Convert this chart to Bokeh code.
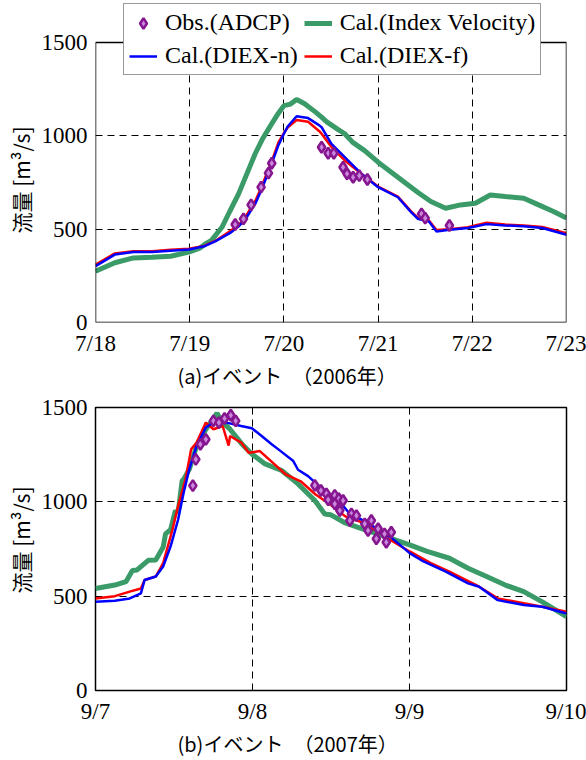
from bokeh.plotting import figure
from bokeh.models import (FixedTicker, Legend, LegendItem, Title, Range1d, BoxAnnotation)
from bokeh.layouts import column
from bokeh.embed import file_html
from bokeh.resources import INLINE

# ---------------- data: panel (a) 2006, days after 7/18 ----------------
a_tick_labels = ["7/18", "7/19", "7/20", "7/21", "7/22", "7/23"]

a_idx_day = [0, 0.205, 0.403, 0.600, 0.797, 0.99, 1.113, 1.166, 1.231, 1.342, 1.43, 1.519,
             1.61, 1.695, 1.78, 1.87, 1.94, 2.0, 2.07, 2.135, 2.22, 2.336, 2.40,
             2.455, 2.573, 2.646, 2.731, 2.857, 3.0, 3.21, 3.42, 3.56, 3.717, 3.875,
             4.033, 4.191, 4.349, 4.546, 4.704, 4.862, 5.0]
a_idx_val = [275, 320, 346, 350, 355, 377, 400, 421, 440, 510, 600, 689,
             800, 904, 990, 1064, 1120, 1162, 1170, 1195, 1172, 1127, 1100,
             1075, 1035, 1011, 965, 921, 859, 778, 698, 648, 612, 630,
             639, 683, 675, 666, 630, 595, 559]

a_n_day = [0, 0.205, 0.403, 0.600, 0.797, 0.994, 1.152, 1.271, 1.43, 1.52, 1.60, 1.70,
           1.77, 1.823, 1.87, 1.942, 2.0, 2.04, 2.135, 2.257, 2.376, 2.40, 2.505, 2.68,
           2.822, 3.0, 3.21, 3.35, 3.42, 3.54, 3.62, 3.757, 3.954, 4.152, 4.349, 4.546,
           4.743, 5.0]
a_n_val = [302, 364, 378, 378, 385, 391, 408, 435, 480, 515, 560, 640,
           720, 790, 850, 950, 1011, 1050, 1105, 1095, 1056, 1046, 957, 868,
           797, 725, 671, 591, 556, 541, 488, 497, 506, 527, 520, 515,
           506, 470]

a_f_day = [0, 0.205, 0.403, 0.600, 0.797, 0.994, 1.152, 1.271, 1.43, 1.52, 1.60, 1.70,
           1.77, 1.823, 1.87, 1.942, 2.0, 2.04, 2.135, 2.257, 2.376, 2.40, 2.505, 2.646,
           2.822, 3.0, 3.21, 3.35, 3.42, 3.54, 3.62, 3.757, 3.954, 4.152, 4.349, 4.546,
           4.743, 5.0]
a_f_val = [310, 370, 382, 382, 390, 395, 410, 437, 490, 522, 572, 655,
           735, 805, 862, 965, 1015, 1045, 1085, 1075, 1025, 1011, 940, 868,
           797, 728, 675, 595, 562, 546, 495, 500, 510, 535, 525, 520,
           512, 478]

a_obs_day = [1.483, 1.571, 1.652, 1.758, 1.836, 1.871, 2.40, 2.47, 2.53, 2.628, 2.67, 2.735,
             2.80, 2.886, 3.461, 3.500, 3.757]
a_obs_val = [525, 555, 630, 725, 800, 853, 939, 907, 907, 832, 797, 778,
             787, 766, 582, 559, 520]

# ---------------- data: panel (b) 2007, days after 9/7 ----------------
b_tick_labels = ["9/7", "9/8", "9/9", "9/10"]

b_idx_day = [0, 0.123, 0.194, 0.235, 0.265, 0.336, 0.384, 0.431, 0.446, 0.478, 0.509, 0.526,
             0.552, 0.561, 0.597, 0.644, 0.703, 0.762, 0.774, 0.810, 0.857, 0.932, 0.999,
             1.08, 1.186, 1.29, 1.397, 1.46, 1.497, 1.591, 1.686, 1.781, 1.875, 2.001, 2.112,
             2.254, 2.373, 2.491, 2.610, 2.728, 2.846, 3.0]
b_idx_val = [541, 559, 577, 636, 639, 690, 692, 760, 830, 852, 954, 941,
             1113, 1118, 1172, 1296, 1385, 1455, 1470, 1420, 1385, 1307, 1251,
             1201, 1166, 1095, 1007, 936, 932, 888, 861, 834, 808, 772, 737,
             701, 648, 604, 559, 524, 470, 391]

b_n_day = [0, 0.123, 0.218, 0.289, 0.313, 0.384, 0.431, 0.478, 0.526, 0.561, 0.597, 0.644,
           0.703, 0.762, 0.834, 0.928, 0.996, 1.070, 1.12, 1.165, 1.260, 1.29, 1.354, 1.449,
           1.48, 1.544, 1.615, 1.733, 1.875, 2.001, 2.089, 2.231, 2.373, 2.444, 2.562, 2.728,
           2.846, 3.0]
b_n_val = [470, 476, 488, 515, 586, 604, 657, 763, 905, 1047, 1172, 1296,
           1394, 1429, 1420, 1402, 1390, 1341, 1307, 1278, 1216, 1170, 1136, 1065,
           1030, 1012, 941, 888, 817, 728, 684, 630, 568, 550, 479, 453,
           444, 408]

b_f_day = [0, 0.123, 0.218, 0.289, 0.313, 0.384, 0.431, 0.490, 0.526, 0.573, 0.609, 0.644,
           0.703, 0.751, 0.810, 0.848, 0.857, 0.928, 0.976, 1.047, 1.118, 1.212, 1.307, 1.402,
           1.497, 1.591, 1.710, 1.875, 2.001, 2.136, 2.254, 2.444, 2.562, 2.728, 2.846, 3.0]
b_f_val = [488, 500, 524, 541, 586, 604, 675, 852, 977, 1118, 1278, 1314,
           1420, 1385, 1402, 1298, 1349, 1314, 1260, 1269, 1216, 1145, 1109, 1039,
           985, 923, 888, 799, 737, 675, 630, 550, 488, 462, 444, 417]

b_obs_day = [0.620, 0.639, 0.668, 0.703, 0.751, 0.786, 0.822, 0.862, 0.893,
             1.397, 1.436, 1.471, 1.524, 1.55, 1.577, 1.482, 1.524, 1.556, 1.63, 1.662,
             1.62, 1.715, 1.757, 1.80, 1.736, 1.841, 1.884, 1.789, 1.852]
b_obs_val = [1086, 1225, 1305, 1331, 1429, 1420, 1442, 1459, 1429,
             1087, 1060, 1042, 1034, 1016, 1007, 1011, 989, 954, 936, 927,
             901, 883, 901, 857, 848, 830, 839, 804, 786]

y_ticks = [0, 500, 1000, 1500]
y_max = 1500

GREEN = "#3a9a68"
BLUE = "#0000ff"
RED = "#ff0000"
OBS_LINE = "#86168f"
OBS_FILL = "#c986dc"
SERIF = "Liberation Serif"
CJK = "Noto Sans CJK JP"


def make_panel(height, top, bottom, xmax, ytop, tick_labels, label_text, ylab_offset,
               idx, n, f, obs, own_box):
    p = figure(width=586, height=height, output_backend="svg", toolbar_location=None,
               x_range=Range1d(0, xmax), y_range=Range1d(0, ytop),
               min_border_left=93, min_border_right=20,
               min_border_top=top, min_border_bottom=bottom)
    p.background_fill_color = "white"
    p.border_fill_color = "white"
    if own_box:
        p.outline_line_color = None
    else:
        p.outline_line_color = "black"
        p.outline_line_width = 1.5

    g = p.line(idx[0], idx[1], line_color=GREEN, line_width=5)
    r = p.line(f[0], f[1], line_color=RED, line_width=2.5)
    b = p.line(n[0], n[1], line_color=BLUE, line_width=2.5)
    o = p.scatter(obs[0], obs[1], marker="diamond", size=11, line_color=OBS_LINE,
                  line_width=2.5, fill_color=OBS_FILL)

    p.xaxis.ticker = FixedTicker(ticks=list(range(len(tick_labels))))
    p.xaxis.major_label_overrides = {i: t for i, t in enumerate(tick_labels)}
    p.yaxis.ticker = FixedTicker(ticks=y_ticks)
    for ax in (p.xaxis, p.yaxis):
        ax.axis_line_color = None
        ax.major_tick_line_color = None
        ax.minor_tick_line_color = None
        ax.major_tick_in = 0
        ax.major_tick_out = 0
        ax.minor_tick_in = 0
        ax.minor_tick_out = 0
        ax.major_label_text_font = SERIF
        ax.major_label_text_font_size = "23px"
        ax.major_label_text_color = "black"
    p.xaxis.major_label_standoff = 8
    p.yaxis.major_label_standoff = 8

    p.xgrid.ticker = FixedTicker(ticks=list(range(1, len(tick_labels) - 1)))
    p.ygrid.ticker = FixedTicker(ticks=[500, 1000])
    for gr in (p.xgrid, p.ygrid):
        gr.grid_line_color = "black"
        gr.grid_line_width = 1
        gr.grid_line_dash = "7 5"
        gr.grid_line_alpha = 1

    if own_box:
        p.add_layout(BoxAnnotation(left=0, right=xmax, bottom=0, top=y_max,
                                   fill_alpha=0, line_color="black", line_width=1.5,
                                   line_alpha=1))

    yt = Title(text="流量 [m³/s]", align="left", offset=ylab_offset, text_font=CJK,
               text_font_size="21px", text_font_style="normal", text_color="black",
               standoff=6)
    p.add_layout(yt, "left")
    t = Title(text=label_text, align="left", offset=82, text_font=CJK,
              text_font_size="20px", text_font_style="normal", text_color="black",
              standoff=1)
    p.add_layout(t, "below")
    return p, g, r, b, o


# panel (a): frame reaches up to the canvas top so the legend can sit above the 1500 line;
# the drawn box stops at 1500
p1, g1, r1, b1, o1 = make_panel(390, 0, 68, 5, 1725, a_tick_labels, "(a)イベント　（2006年）", 89,
                                (a_idx_day, a_idx_val), (a_n_day, a_n_val),
                                (a_f_day, a_f_val), (a_obs_day, a_obs_val), True)
p2, g2, r2, b2, o2 = make_panel(370, 17, 70, 3, 1500, b_tick_labels, "(b)イベント　（2007年）", 97,
                                (b_idx_day, b_idx_val), (b_n_day, b_n_val),
                                (b_f_day, b_f_val), (b_obs_day, b_obs_val), False)

legend = Legend(items=[LegendItem(label="Obs.(ADCP)", renderers=[o1]),
                       LegendItem(label="Cal.(DIEX-n)", renderers=[b1]),
                       LegendItem(label="Cal.(Index Velocity)", renderers=[g1]),
                       LegendItem(label="Cal.(DIEX-f)", renderers=[r1])],
                ncols=2, location=(28, 247))
legend.label_text_font = SERIF
legend.label_text_font_size = "24px"
legend.label_text_color = "black"
legend.glyph_width = 28
legend.glyph_height = 26
legend.label_height = 26
legend.label_standoff = 8
legend.spacing = 6
legend.padding = 5
legend.margin = 0
legend.border_line_color = "#333333"
legend.border_line_width = 1.5
legend.background_fill_alpha = 1
p1.add_layout(legend, "center")

layout = column(p1, p2, spacing=0)
open("out.html", "w").write(file_html(layout, INLINE))
